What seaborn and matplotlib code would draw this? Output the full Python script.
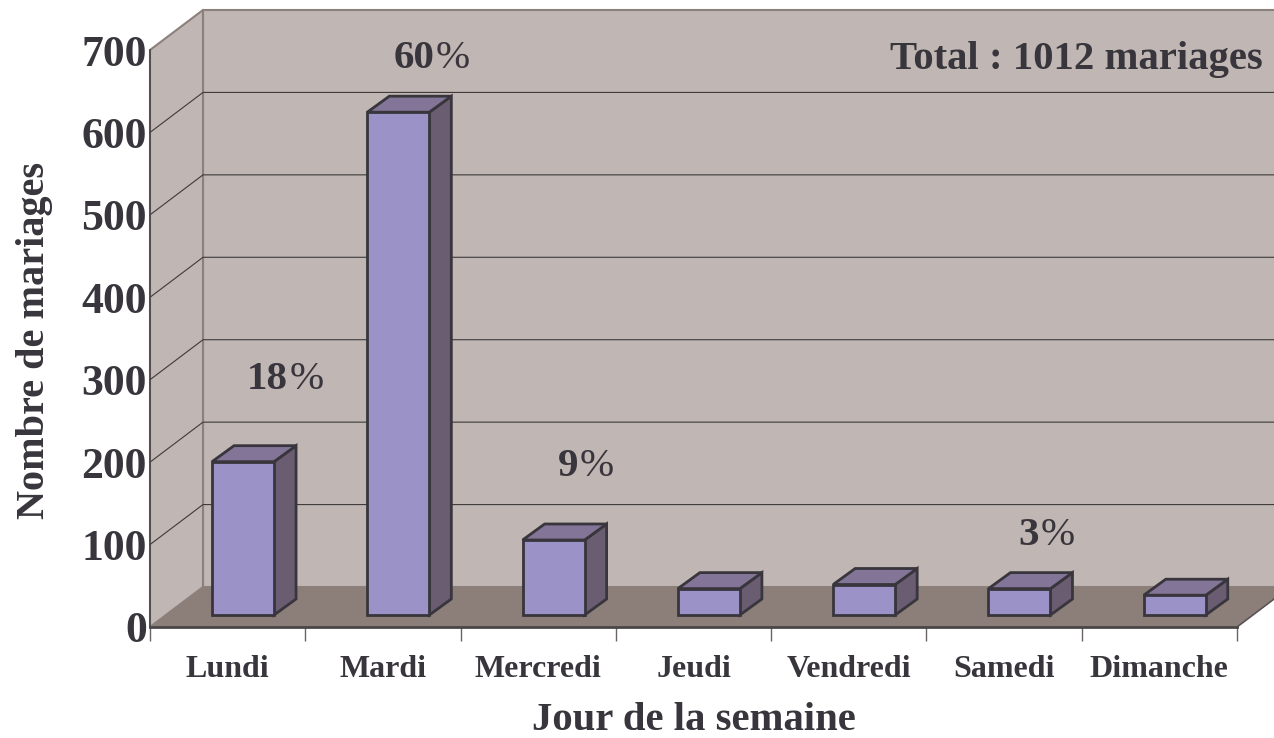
import matplotlib
matplotlib.use("Agg")
import matplotlib.pyplot as plt
from matplotlib.patches import Polygon
from matplotlib.ticker import FixedLocator
import pandas as pd
import seaborn as sns

jours = ["Lundi", "Mardi", "Mercredi", "Jeudi", "Vendredi", "Samedi", "Dimanche"]
mariages = [186, 610, 91, 32, 37, 32, 24]
pourcent_jours = ["Lundi", "Mardi", "Mercredi", "Samedi"]
pourcent_txt = ["18", "60", "9", "3"]

# couleurs
C_FACE = "#9B93C8"
C_SIDE = "#6A5D72"
C_TOP = "#837597"
C_WALL = "#C0B6B3"
C_FLOOR = "#8C7F7A"
C_EDGE = "#38353C"
C_TXT = "#38353C"

sns.set_theme(style="white")
plt.rcParams["font.family"] = ["Liberation Serif", "DejaVu Serif"]

W, H = 1274, 738
fig = plt.figure(figsize=(W / 100, H / 100), dpi=100)
ax = fig.add_axes([150 / W, 1 - 627 / H, 1087 / W, 577 / H])

# profondeur de la fausse 3D, en unites de donnees
PX_X = 1087 / 7
PX_Y = 577 / 700
DX, DY = 53 / PX_X, 40 / PX_Y          # parois
BAR_DX, BAR_DY = 15.4 / PX_X, 12 / PX_Y  # recul des barres sur le sol
TOP_DX, TOP_DY = 22 / PX_X, 16 / PX_Y    # epaisseur des barres

df = pd.DataFrame({"jour": jours, "mariages": mariages})
sns.barplot(data=df, x="jour", y="mariages", color=C_FACE, saturation=1,
            width=62 / PX_X, edgecolor=C_EDGE, linewidth=2, ax=ax, zorder=4)
ax.set_xlim(-0.5, 6.5)
ax.set_ylim(0, 700)

x0, x1 = -0.5, 6.5
# parois et sol
ax.add_patch(Polygon([(x0 + DX, DY), (x1 + DX, DY), (x1 + DX, 700 + DY), (x0 + DX, 700 + DY)],
                     fc=C_WALL, ec="#8C807C", lw=1.5, zorder=0.5, clip_on=False))
ax.add_patch(Polygon([(x0, 0), (x0 + DX, DY), (x0 + DX, 700 + DY), (x0, 700)],
                     fc=C_WALL, ec="#8C807C", lw=1.5, zorder=0.6, clip_on=False))
ax.add_patch(Polygon([(x0, 0), (x1, 0), (x1 + DX, DY), (x0 + DX, DY)],
                     fc=C_FLOOR, ec="none", zorder=0.7, clip_on=False))
ax.plot([x1, x1 + DX], [0, DY], color="#5A5255", lw=1.2, zorder=0.8, clip_on=False)

# grille
for v in range(100, 601, 100):
    ax.plot([x0, x0 + DX, x1 + DX], [v, v + DY, v + DY], color="#3E3A3C", lw=0.8,
            zorder=0.9, clip_on=False, solid_joinstyle="miter")

# barres : on recule la face et on ajoute cote + dessus
for bar in list(ax.patches):
    if bar.get_zorder() != 4:
        continue
    bar.set_x(bar.get_x() + BAR_DX)
    bar.set_y(BAR_DY)
    l, b = bar.get_x(), bar.get_y()
    r, t = l + bar.get_width(), b + bar.get_height()
    ax.add_patch(Polygon([(r, b), (r + TOP_DX, b + TOP_DY), (r + TOP_DX, t + TOP_DY), (r, t)],
                         fc=C_SIDE, ec=C_EDGE, lw=2, zorder=3.5, joinstyle="miter"))
    ax.add_patch(Polygon([(l, t), (r, t), (r + TOP_DX, t + TOP_DY), (l + TOP_DX, t + TOP_DY)],
                         fc=C_TOP, ec=C_EDGE, lw=2, zorder=3.5, joinstyle="miter"))

# axes
sns.despine(ax=ax, top=True, right=True)
ax.spines["left"].set(color="#4A4648", linewidth=1.2, zorder=5)
ax.spines["bottom"].set(color="#4A4648", linewidth=2, zorder=5)
ax.set_yticks(range(0, 701, 100))
ax.tick_params(axis="y", length=0, pad=2.2, labelsize=31.5, labelcolor=C_TXT)
ax.tick_params(axis="x", which="major", length=0, pad=20.5, labelsize=23, labelcolor=C_TXT)
ax.xaxis.set_minor_locator(FixedLocator([i - 0.5 for i in range(8)]))
ax.tick_params(axis="x", which="minor", bottom=True, length=10, width=1, color="#6A6466")
for lab in ax.get_xticklabels() + ax.get_yticklabels():
    lab.set_fontweight("bold")

ax.set_xlabel("Jour de la semaine", fontsize=29.3, fontweight="bold", color=C_TXT, va="center")
ax.set_ylabel("Nombre de mariages", fontsize=29, fontweight="bold", color=C_TXT, va="center")
ax.xaxis.set_label_coords((694 - 150) / 1087, (627 - 720) / 577)
ax.yaxis.set_label_coords((35 - 150) / 1087, (627 - 340) / 577)

# pourcentages au-dessus des barres
offs_y = [99.7, 65.3, 89.6, 64.6]
offs_x = [0.219, 0.16, 0.086, 0.053]
for jour, txt, oy, ox in zip(pourcent_jours, pourcent_txt, offs_y, offs_x):
    i = jours.index(jour)
    y = mariages[i] + BAR_DY + oy
    ax.text(i + 0.17 + ox, y, txt, ha="right", va="center", fontsize=29.5, fontweight="bold",
            color=C_TXT, clip_on=False, zorder=6)
    ax.text(i + 0.18 + ox, y, "%", ha="left", va="center", fontsize=29.5,
            color=C_TXT, clip_on=False, zorder=6)

ax.annotate("Total : 1012 mariages", xy=(1263, H - 59), xycoords="figure pixels",
            ha="right", va="center", fontsize=29.3, fontweight="bold", color=C_TXT, zorder=6)

fig.savefig("out.png", dpi=100, facecolor="white")
